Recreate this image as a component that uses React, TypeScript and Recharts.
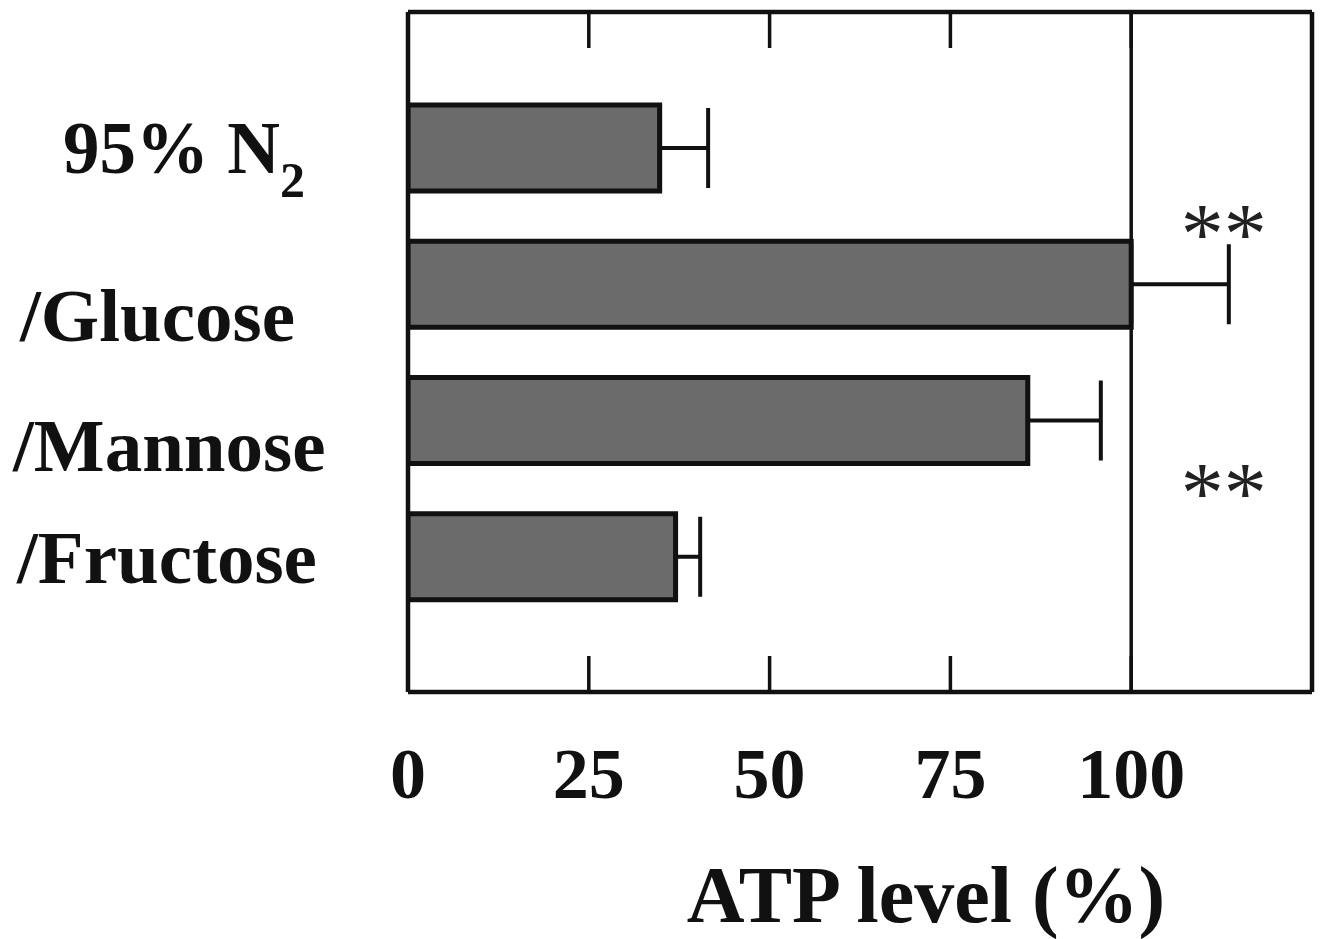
import { BarChart, Bar, XAxis, YAxis, ErrorBar, ReferenceLine, LabelList, Label } from "recharts"

const categories = ["95% N2", "/Glucose", "/Mannose", "/Fructose"]
const atpLevel = [34.8, 100, 85.7, 37.0]
const atpError = [6.7, 13.5, 10.1, 3.4]
const significance = ["", "**", "**", ""]
const xTicks = [0, 25, 50, 75, 100]

const data = categories.map((name, i) => ({
  name,
  atp: atpLevel[i],
  err: [0, atpError[i]],
  sig: significance[i],
}))

const INK = "#111"
const FONT = '"Liberation Serif", "Times New Roman", serif'

// per-label nudges, the original labels don't sit on the bar centres
const labelShift: Record<string, { x: number; dy: number }> = {
  "95% N2": { x: 63, dy: 25 },
  "/Glucose": { x: 20, dy: 57 },
  "/Mannose": { x: 13, dy: 50 },
  "/Fructose": { x: 17, dy: 26 },
}

const CategoryTick = (props: any) => {
  const { y, payload } = props
  const name: string = payload.value
  const s = labelShift[name] ?? { x: 15, dy: 25 }
  if (name === "95% N2") {
    return (
      <text x={s.x} y={y + s.dy} fontFamily={FONT} fontWeight="bold" fontSize={73} fill={INK}>
        95% N
        <tspan fontSize={50} dy={24}>2</tspan>
      </text>
    )
  }
  return (
    <text x={s.x} y={y + s.dy} fontFamily={FONT} fontWeight="bold" fontSize={75} fill={INK}>
      {name}
    </text>
  )
}

const ValueTick = (props: any) => {
  const { x, y, payload } = props
  return (
    <text x={x} y={y} dy={142} textAnchor="middle" fontFamily={FONT} fontWeight="bold" fontSize={72} fill={INK}>
      {payload.value}
    </text>
  )
}

const NoTick = () => <g />

const SigLabel = (props: any) => {
  const { x, y, width, height, value, index } = props
  if (!value) return null
  const sx = x + (width * 112.8) / atpLevel[index]
  const sy = index === 1 ? y + 22 : y + height + 58
  return (
    <text x={sx} y={sy} textAnchor="middle" fontFamily={FONT} fontSize={86} fill="#222">
      {value}
    </text>
  )
}

const AxisTitle = (props: any) => {
  const vb = props.viewBox
  return (
    <text
      x={vb.x + vb.width / 2 + 66}
      y={vb.y + 230}
      textAnchor="middle"
      fontFamily={FONT}
      fontWeight="bold"
      fontSize={80}
      fill={INK}
    >
      ATP level (%)
    </text>
  )
}

export default function App() {
  return (
    <div style={{ position: "absolute", left: 0, top: 0, background: "#fff" }}>
      <BarChart
        width={1320}
        height={939}
        data={data}
        layout="vertical"
        margin={{ top: 0, right: 8, bottom: 0, left: 0 }}
      >
        <XAxis
          xAxisId="top"
          orientation="top"
          type="number"
          domain={[0, 125]}
          ticks={xTicks}
          allowDataOverflow
          height={12}
          tickSize={-36}
          tick={NoTick}
          axisLine={{ stroke: INK, strokeWidth: 4.5 }}
          tickLine={{ stroke: INK, strokeWidth: 3.5 }}
        />
        <XAxis
          type="number"
          domain={[0, 125]}
          ticks={xTicks}
          allowDataOverflow
          height={247}
          tickSize={-36}
          tickMargin={0}
          tick={ValueTick}
          axisLine={{ stroke: INK, strokeWidth: 4.5 }}
          tickLine={{ stroke: INK, strokeWidth: 3.5 }}
        >
          <Label content={AxisTitle} />
        </XAxis>
        <YAxis
          type="category"
          dataKey="name"
          width={408}
          padding={{ top: 68, bottom: 67 }}
          tickLine={false}
          tick={CategoryTick}
          axisLine={{ stroke: INK, strokeWidth: 4.5 }}
        />
        <ReferenceLine x={100} stroke={INK} strokeWidth={3.5} />
        <ReferenceLine x={125} stroke={INK} strokeWidth={4.5} />
        <Bar dataKey="atp" fill="#6b6b6b" stroke={INK} strokeWidth={5} barSize={86} isAnimationActive={false}>
          <ErrorBar dataKey="err" direction="x" width={40} stroke={INK} strokeWidth={4} />
          <LabelList dataKey="sig" content={SigLabel} />
        </Bar>
      </BarChart>
    </div>
  )
}
